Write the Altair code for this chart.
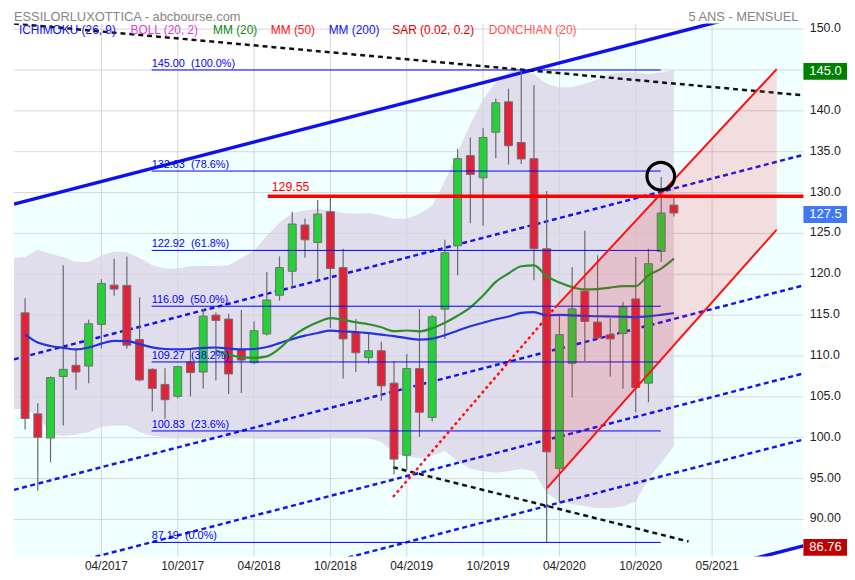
import altair as alt
import pandas as pd

FONT = "Liberation Sans"

# ---------------- data ----------------
# month index: 0 = Jan 2017
months = list(range(-3, 49))
opens = [115.28, 102.92, 99.97, 107.49, 108.86, 108.77, 113.86, 118.67, 118.64, 112.01,
         108.37, 106.52, 105.06, 109.26, 108.04, 115.0, 114.52, 110.83, 109.18, 112.7,
         117.43, 120.37, 126.03, 123.89, 127.65, 120.82, 112.89, 109.79, 110.64, 106.68,
         97.86, 108.46, 102.47, 115.73, 123.49, 134.52, 131.8, 137.38, 141.1, 136.13,
         134.15, 123.12, 96.25, 109.1, 117.95, 114.15, 112.61, 112.74, 116.98, 106.68,
         122.8, 128.46]
highs = [117.06, 104.21, 107.5, 121.1, 110.96, 114.43, 119.4, 121.91, 122.19, 117.18,
         108.5, 108.49, 108.8, 110.95, 115.73, 115.32, 115.16, 115.64, 114.23, 120.29,
         122.19, 127.65, 126.83, 129.1, 129.58, 123.12, 114.52, 112.89, 111.73, 109.38,
         110.23, 115.73, 115.04, 124.21, 135.37, 136.74, 137.86, 141.5, 142.71, 145.0,
         143.12, 130.19, 115.04, 120.89, 125.34, 122.31, 114.64, 116.65, 122.11, 123.12,
         131.89, 129.38]
lows = [101.01, 93.5, 96.98, 101.5, 105.86, 106.67, 110.92, 117.38, 110.92, 106.9,
        103.2, 102.31, 104.8, 105.06, 106.03, 107.0, 105.34, 105.46, 109.0, 112.5,
        116.77, 118.4, 122.03, 119.28, 113.43, 107.24, 108.04, 109.06, 104.53, 95.52,
        96.04, 100.09, 101.98, 112.09, 119.89, 126.23, 125.95, 134.23, 133.43, 133.5,
        119.28, 87.19, 92.01, 104.94, 109.38, 112.0, 107.49, 106.03, 103.12, 104.34,
        121.5, 127.07]
closes = [102.35, 100.05, 107.36, 108.37, 108.04, 113.95, 118.88, 118.19, 111.32, 107.07,
          106.03, 104.65, 108.7, 107.97, 114.88, 114.35, 107.8, 109.5, 113.1, 116.86,
          120.82, 126.15, 124.22, 127.37, 120.7, 112.09, 110.4, 110.64, 106.35, 97.38,
          108.46, 103.12, 114.8, 122.64, 134.15, 132.21, 136.74, 140.98, 135.73, 134.11,
          123.12, 98.27, 112.61, 115.77, 114.23, 112.21, 112.09, 116.04, 106.15, 121.3,
          127.49, 127.5]

# Bollinger band (20, 2)
boll_t = list(range(-4, 49))
boll_upper = [122.0, 122.1, 123.0, 122.5, 122.1, 121.5, 121.5, 122.3, 122.8, 122.7, 122.0,
              121.1, 120.7, 120.7, 121.0, 121.0, 121.0, 121.1, 122.0, 122.9, 124.7,
              126.3, 127.5, 127.8, 128.0, 127.8, 127.5, 127.4, 127.5, 127.2, 126.8,
              126.8, 127.4, 128.4, 131.4, 134.8, 138.4, 141.4, 143.5, 144.7, 145.1,
              144.5, 143.3, 142.9, 142.9, 143.3, 143.8, 144.5, 144.7, 144.7, 144.5,
              144.7, 145.0]
boll_lower = [103.5, 103.5, 102.7, 100.5, 100.2, 100.4, 100.7, 101.3, 101.5, 101.5, 100.7,
              100.2, 100.1, 100.1, 100.1, 100.1, 100.1, 100.1, 100.1, 99.9, 99.9,
              99.9, 99.9, 99.9, 99.9, 100.1, 100.1, 100.1, 99.9, 99.5, 98.1,
              97.7, 97.5, 97.8, 98.4, 97.1, 96.2, 95.9, 95.7, 95.9, 96.2,
              95.9, 93.2, 92.2, 91.9, 91.6, 91.4, 91.4, 91.6, 92.2, 95.0,
              96.9, 99.0]

# moving averages
ma_blue = [112.61, 111.64, 111.22, 111.0, 110.8, 111.04, 111.52, 111.85, 111.83, 111.46,
           111.06, 110.86, 110.8, 110.86, 111.0, 111.04, 110.92, 110.8, 110.86, 111.1,
           111.58, 112.07, 112.49, 112.82, 113.1, 113.0, 112.94, 112.8, 112.61, 112.43,
           112.19, 112.01, 112.13, 112.55, 113.1, 113.64, 114.07, 114.49, 114.83, 115.28,
           115.37, 114.98, 115.04, 114.98, 114.92, 114.86, 114.83, 114.8, 114.76, 114.86,
           115.04, 115.25]
ma_green_t = list(range(12, 49))
ma_green = [110.67, 110.19, 109.83, 109.77, 109.95, 110.92, 112.37, 113.4, 114.13, 114.64,
            114.43, 114.13, 113.89, 113.52, 113.04, 113.12, 113.01, 113.4, 114.07, 114.92,
            115.95, 117.4, 119.07, 120.09, 120.98, 121.1, 119.77, 118.98, 118.43, 118.15,
            118.19, 118.37, 118.55, 118.55, 119.89, 120.7, 121.91]

# parallel blue channel (end points at the plot's left and right edges)
chan_t = [-3.875, 58.18]
chan_top = [128.58, 153.6]
chan_a = [109.59, 134.61]
chan_b = [93.62, 118.64]
chan_c = [82.85, 107.87]
chan_d = [74.76, 99.78]
chan_bottom = [61.75, 86.77]

# black dashed trend lines
black_up_t = [-3.875, 58.18]
black_up_v = [150.68, 141.9]
black_lo_t = [25.92, 49.15]
black_lo_v = [96.38, 87.30]

# red regression channel
red_dot_t = [25.92, 38.64]
red_dot_v = [92.74, 115.89]
red_up_t = [38.64, 56.08]
red_up_v = [115.89, 145.10]
red_lo_t = [38.02, 56.08]
red_lo_v = [93.83, 125.47]
pink_t = [38.02, 56.08]
pink_top = [114.85, 145.10]
pink_bot = [93.83, 125.47]

# Fibonacci retracement
fib_values = [145.00, 132.63, 122.92, 116.09, 109.27, 100.83, 87.19]
fib_pct = ["100.0%", "78.6%", "61.8%", "50.0%", "38.2%", "23.6%", "0.0%"]
fib_range = [6.95, 46.97]

level_value = 129.55
level_range = [16.07, 58.18]
circle_t = [46.97]
circle_v = [132.01]

grid_values = list(range(90, 151, 5))
label_values = [v for v in grid_values if v != 145]   # 145 is shown by the green box
tick_t = [3, 9, 15, 21, 27, 33, 39, 45, 51]
tick_labels = ["04/2017", "10/2017", "04/2018", "10/2018", "04/2019",
               "10/2019", "04/2020", "10/2020", "05/2021"]

box_values = [145.0, 127.5, 86.76]
box_texts = ["145.0", "127.5", "86.76"]

legend_texts = ["ICHIMOKU (26, 9)", "BOLL (20, 2)", "MM (20)", "MM (50)",
                "MM (200)", "SAR (0.02, 0.2)", "DONCHIAN (20)"]
title_left = "ESSILORLUXOTTICA - abcbourse.com"
title_right = "5 ANS - MENSUEL"

# ---------------- styling ----------------
legend_colors = ["#1414f0", "#d444d4", "#128a12", "#ff1414", "#1414f0", "#e00000", "#ff5555"]
legend_px = [5, 117.7, 201, 259.3, 317.7, 382, 479.3]
box_colors = ["#008000", "#4078f4", "#c00000"]

W, H = 797, 538
T0, T1 = -3.875, 58.18
V0, V1 = 85.47, 150.68
xs = alt.Scale(domain=[T0, T1], nice=False, zero=False, padding=0)
ys = alt.Scale(domain=[V0, V1], nice=False, zero=False, padding=0)

x_expr = " : ".join(f"datum.value == {t} ? '{l}'" for t, l in zip(tick_t, tick_labels)) + " : ''"
xaxis = alt.Axis(values=tick_t, labelExpr=x_expr, grid=False, ticks=False, domain=False,
                 labelFont=FONT, labelFontSize=12, labelColor="#222222", labelPadding=4,
                 labelOffset=4.5, title=None, labelFlush=False, labelOverlap=False)
yaxis = alt.Axis(orient="right", values=label_values,
                 labelExpr="datum.value >= 100 ? format(datum.value, '.1f') : format(datum.value, '.2f')",
                 grid=False, ticks=False, domain=False, labelFont=FONT, labelFontSize=12.5,
                 labelColor="#222222", labelPadding=6, labelAlign="left", labelBaseline="middle",
                 labelOffset=-1.5, title=None, labelFlush=False, labelOverlap=False)


def X(field):
    return alt.X(field, type="quantitative", scale=xs, axis=xaxis)


def Y(field):
    return alt.Y(field, type="quantitative", scale=ys, axis=yaxis)


def seg(ts, vs, color, width, dash=None, clip=True):
    df = pd.DataFrame({"t": ts, "v": vs})
    kw = dict(color=color, strokeWidth=width, clip=clip)
    if dash:
        kw["strokeDash"] = dash
    return alt.Chart(df).mark_line(**kw).encode(x=X("t"), y=Y("v"))


layers = []

# cyan channel background
chan_df = pd.DataFrame({"t": chan_t, "top": chan_top, "bot": chan_bottom})
layers.append(alt.Chart(chan_df).mark_area(color="#f0ffff", clip=True).encode(
    x=X("t"), y=Y("top"), y2="bot"))

# Bollinger band
boll_df = pd.DataFrame({"t": boll_t, "up": boll_upper, "lo": boll_lower})
layers.append(alt.Chart(boll_df).mark_area(color="#e0deec", clip=True).encode(
    x=X("t"), y=Y("up"), y2="lo"))

# gridlines
hgrid = pd.DataFrame({"v": grid_values})
layers.append(alt.Chart(hgrid).mark_rule(color="#d6d6dc", strokeWidth=1).encode(
    y=Y("v"), x=alt.value(0), x2=alt.value(W)))
vgrid = pd.DataFrame({"t": tick_t})
layers.append(alt.Chart(vgrid).mark_rule(color="#d6d6dc", strokeWidth=1).encode(
    x=X("t"), y=alt.value(0), y2=alt.value(H)))

# blue channel lines
for vals in (chan_a, chan_b, chan_c, chan_d):
    layers.append(seg(chan_t, vals, "#1414ee", 2.5, [5, 3.5]))
layers.append(seg(chan_t, chan_top, "#1010ee", 3.5))
layers.append(seg(chan_t, chan_bottom, "#1010ee", 3.5))

# black dashed lines
layers.append(seg(black_up_t, black_up_v, "#111111", 2.5, [5, 4]))
layers.append(seg(black_lo_t, black_lo_v, "#111111", 2.5, [5, 4]))

# candles
cdf = pd.DataFrame({"t": months, "open": opens, "high": highs, "low": lows, "close": closes})
up = alt.datum.close >= alt.datum.open
layers.append(alt.Chart(cdf).mark_rule(color="#6a6a6a", strokeWidth=1.2).encode(
    x=X("t"), y=Y("low"), y2="high"))
layers.append(alt.Chart(cdf).mark_bar(width=8, stroke="#707070", strokeWidth=1).encode(
    x=X("t"), y=Y("open"), y2="close",
    color=alt.condition(up, alt.value("#26d03a"), alt.value("#e0233a"))))

# moving averages
mab = pd.DataFrame({"t": months, "v": ma_blue})
layers.append(alt.Chart(mab).mark_line(color="#2433dd", strokeWidth=2.2, interpolate="monotone").encode(
    x=X("t"), y=Y("v")))
mag = pd.DataFrame({"t": ma_green_t, "v": ma_green})
layers.append(alt.Chart(mag).mark_line(color="#2e8f2e", strokeWidth=2.2, interpolate="monotone").encode(
    x=X("t"), y=Y("v")))

# Fibonacci levels
fib_df = pd.DataFrame({"v": fib_values,
                       "lab": [f"{v:.2f}\u00a0 ({p})" for v, p in zip(fib_values, fib_pct)],
                       "t0": fib_range[0], "t1": fib_range[1]})
layers.append(alt.Chart(fib_df).mark_rule(color="#0000ff", strokeWidth=1).encode(
    x=X("t0"), x2="t1", y=Y("v")))
layers.append(alt.Chart(fib_df).mark_text(color="#0000ff", font=FONT, fontSize=11,
                                          align="left", baseline="bottom", dy=-1).encode(
    x=X("t0"), y=Y("v"), text="lab"))

# pink regression channel (drawn over candles)
pink_df = pd.DataFrame({"t": pink_t, "top": pink_top, "bot": pink_bot})
layers.append(alt.Chart(pink_df).mark_area(color="#ff2020", opacity=0.15).encode(
    x=X("t"), y=Y("top"), y2="bot"))
layers.append(seg(red_dot_t, red_dot_v, "#ff1010", 2.5, [3, 3]))
layers.append(seg(red_up_t, red_up_v, "#ff1010", 2))
layers.append(seg(red_lo_t, red_lo_v, "#ff1010", 2))

# resistance level
lvl_df = pd.DataFrame({"t0": [level_range[0]], "t1": [level_range[1]], "v": [level_value],
                       "lab": [f"{level_value:.2f}"]})
layers.append(alt.Chart(lvl_df).mark_rule(color="#ff0000", strokeWidth=3.5).encode(
    x=X("t0"), x2="t1", y=Y("v")))
layers.append(alt.Chart(lvl_df).mark_text(color="#ff0000", font=FONT, fontSize=12.5,
                                          align="left", baseline="bottom", dx=4, dy=-2).encode(
    x=X("t0"), y=Y("v"), text="lab"))

# circle marker
circ = pd.DataFrame({"t": circle_t, "v": circle_v})
layers.append(alt.Chart(circ).mark_point(shape="circle", size=780, filled=False, opacity=1,
                                         color="#000000", strokeWidth=3.2).encode(
    x=X("t"), y=Y("v")))

# right value boxes
box_df = pd.DataFrame({"v": box_values, "txt": box_texts, "col": box_colors})
layers.append(alt.Chart(box_df).mark_rule(strokeWidth=17, yOffset=1.5).encode(
    y=Y("v"), x=alt.value(W), x2=alt.value(W + 44),
    color=alt.Color("col:N", scale=None)))
layers.append(alt.Chart(box_df).mark_text(color="white", font=FONT, fontSize=13,
                                          align="left", baseline="middle", dy=1.5).encode(
    y=Y("v"), x=alt.value(W + 6), text="txt"))

# title and indicator legend
layers.append(alt.Chart(pd.DataFrame({"txt": [title_left]})).mark_text(
    color="#858585", font=FONT, fontSize=13, align="left", baseline="top").encode(
    x=alt.value(0), y=alt.value(-13), text="txt"))
layers.append(alt.Chart(pd.DataFrame({"txt": [title_right]})).mark_text(
    color="#858585", font=FONT, fontSize=13, align="right", baseline="top").encode(
    x=alt.value(792), y=alt.value(-13), text="txt"))
for txt, col, px in zip(legend_texts, legend_colors, legend_px):
    layers.append(alt.Chart(pd.DataFrame({"txt": [txt]})).mark_text(
        color=col, font=FONT, fontSize=12, align="left", baseline="middle").encode(
        x=alt.value(px), y=alt.value(7), text="txt"))

chart = alt.layer(*layers).properties(
    width=W, height=H,
    padding={"left": 6, "top": 13, "right": 44, "bottom": 15},
    autosize=alt.AutoSizeParams(type="none"),
    background="white",
).configure_view(stroke=None)

chart.save("out.html", embed_options={"renderer": "svg", "actions": False})
